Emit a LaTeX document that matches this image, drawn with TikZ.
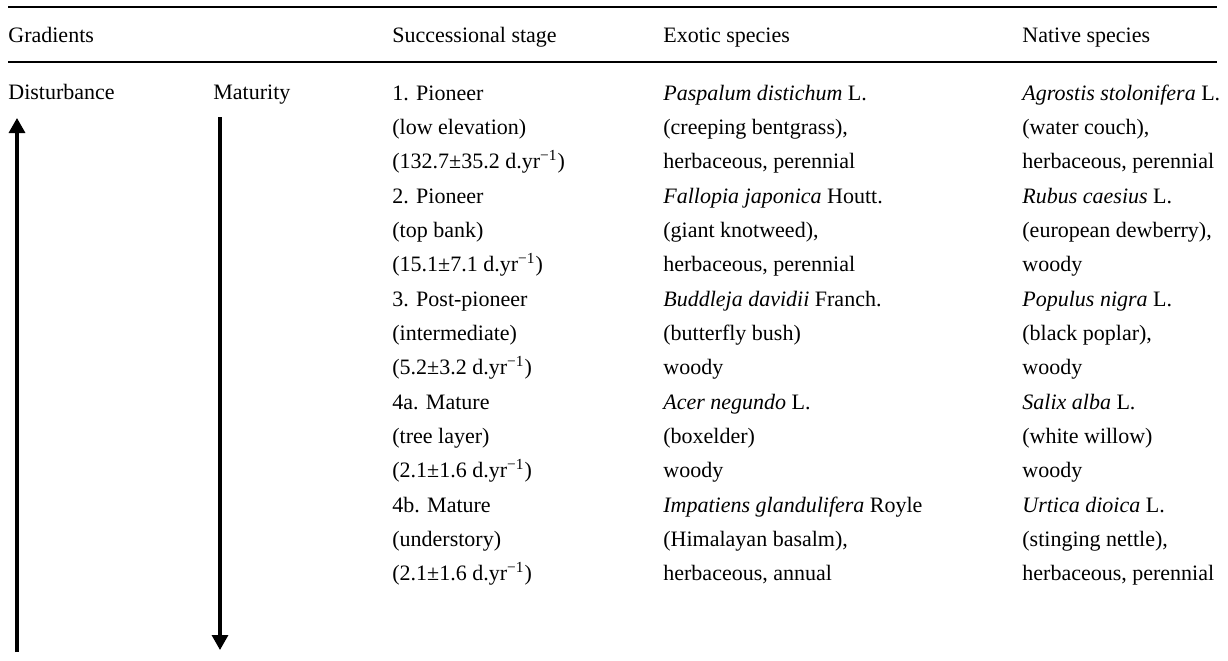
\documentclass[tikz,border=0pt]{standalone}
\usepackage{fontspec}
\setmainfont{Liberation Serif}
\usetikzlibrary{positioning,arrows.meta}

\begin{document}
\begin{tikzpicture}[x=0.5pt,y=-0.5pt]
\tikzstyle{head}=[anchor=base west, inner sep=0pt, font=\fontsize{11}{17.05}\selectfont]
\tikzstyle{cell}=[anchor=north west, inner sep=0pt, align=left, font=\fontsize{11}{17.05}\selectfont]
\tikzstyle{rule}=[line width=1.4pt]
\tikzstyle{gradarrow}=[-{Triangle[width=8pt,length=7.5pt]}, line width=1.6pt]
  \useasboundingbox (0,0) rectangle (1228,660);
  \draw[rule] (8,7) -- (1217,7);
  \draw[rule] (8,62) -- (1217,62);
  % header
  \node[head] (hgrad) at (8,42) {Gradients};
  \node[head] (hstage) at (392,42) {Successional stage};
  \node[head] (hexo) at (663,42) {Exotic species};
  \node[head] (hnat) at (1022,42) {Native species};
  % gradients
  \node[head] (dist) at (8,99.5) {Disturbance};
  \node[head] (mat) at (213,99.5) {Maturity};
  \coordinate (distbot) at (17,652);
  \coordinate (disttop) at (17,118);
  \coordinate (mattop) at (220,117);
  \coordinate (matbot) at (220,650);
  \draw[gradarrow] (distbot) -- (disttop);
  \draw[gradarrow] (mattop) -- (matbot);
  % successional stages
  \node[cell] (st1) at (392,76) {\strut 1. Pioneer\\(low elevation)\\(132.7±35.2 d.yr\textsuperscript{−1})\strut};
  \node[cell] (st2) [below right=0pt of st1.south west] {\strut 2. Pioneer\\(top bank)\\(15.1±7.1 d.yr\textsuperscript{−1})\strut};
  \node[cell] (st3) [below right=0pt of st2.south west] {\strut 3. Post-pioneer\\(intermediate)\\(5.2±3.2 d.yr\textsuperscript{−1})\strut};
  \node[cell] (st4a) [below right=0pt of st3.south west] {\strut 4a. Mature\\(tree layer)\\(2.1±1.6 d.yr\textsuperscript{−1})\strut};
  \node[cell] (st4b) [below right=0pt of st4a.south west] {\strut 4b. Mature\\(understory)\\(2.1±1.6 d.yr\textsuperscript{−1})\strut};
  % exotic species
  \node[cell] (ex1) at (663,76) {\strut\textit{Paspalum distichum} L.\\(creeping bentgrass),\\herbaceous, perennial\strut};
  \node[cell] (ex2) [below right=0pt of ex1.south west] {\strut\textit{Fallopia japonica} Houtt.\\(giant knotweed),\\herbaceous, perennial\strut};
  \node[cell] (ex3) [below right=0pt of ex2.south west] {\strut\textit{Buddleja davidii} Franch.\\(butterfly bush)\\woody\strut};
  \node[cell] (ex4a) [below right=0pt of ex3.south west] {\strut\textit{Acer negundo} L.\\(boxelder)\\woody\strut};
  \node[cell] (ex4b) [below right=0pt of ex4a.south west] {\strut\textit{Impatiens glandulifera} Royle\\(Himalayan basalm),\\herbaceous, annual\strut};
  % native species
  \node[cell] (na1) at (1022,76) {\strut\textit{Agrostis stolonifera} L.\\(water couch),\\herbaceous, perennial\strut};
  \node[cell] (na2) [below right=0pt of na1.south west] {\strut\textit{Rubus caesius} L.\\(european dewberry),\\woody\strut};
  \node[cell] (na3) [below right=0pt of na2.south west] {\strut\textit{Populus nigra} L.\\(black poplar),\\woody\strut};
  \node[cell] (na4a) [below right=0pt of na3.south west] {\strut\textit{Salix alba} L.\\(white willow)\\woody\strut};
  \node[cell] (na4b) [below right=0pt of na4a.south west] {\strut\textit{Urtica dioica} L.\\(stinging nettle),\\herbaceous, perennial\strut};
\end{tikzpicture}
\end{document}
